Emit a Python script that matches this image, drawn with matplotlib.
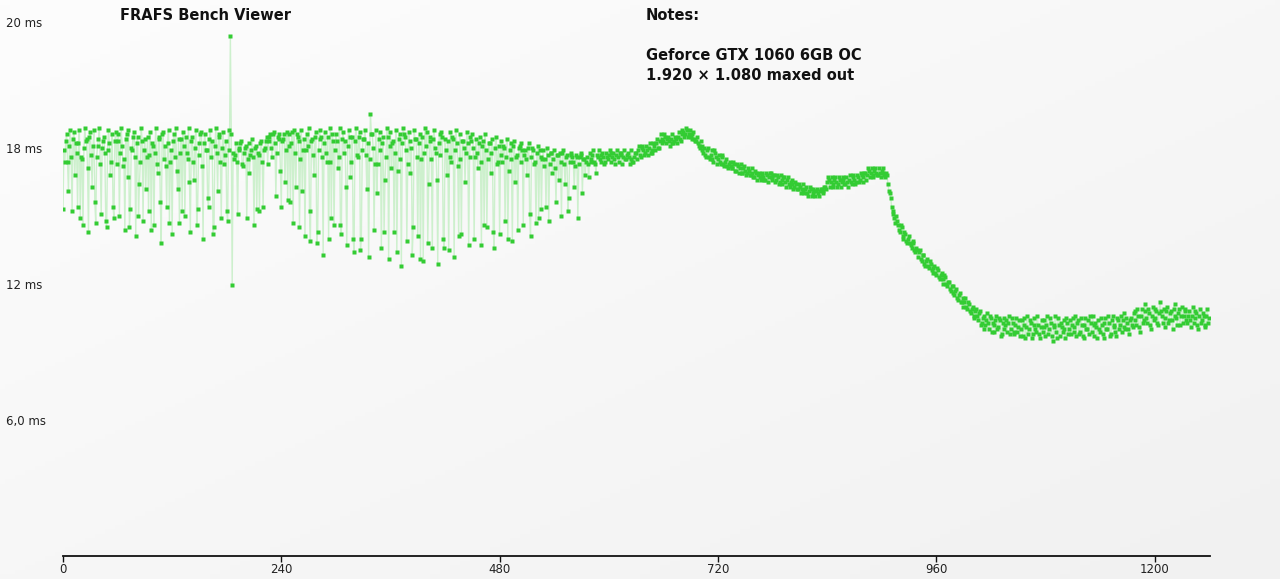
import numpy as np
import matplotlib
matplotlib.use("Agg")
import matplotlib.pyplot as plt

# ---------------- data: frame times in ms ----------------
# even frames (0, 2, 4, ...)
even_osc1 = [15.3, 17.4, 18.6, 16.1, 18.8, 15.2, 18.7, 18.2, 15.4, 18.8, 17.6, 14.6, 18.9, 18.4, 14.3, 18.7,
             16.3, 18.8, 14.7, 18.1, 18.9, 15.1, 18.3, 17.8, 14.5, 18.8, 16.8, 18.6, 14.9, 18.7, 18.3, 15.0,
             18.9, 17.2, 14.4, 18.6, 18.8, 15.3, 17.9, 18.7, 14.1, 18.5, 16.4, 18.9, 14.8, 18.4, 17.6, 15.2,
             18.7, 18.2, 14.6, 18.9, 16.9, 18.5, 13.8, 18.7, 18.1, 15.4, 18.8, 17.4, 14.2, 18.6, 18.9, 16.2,
             14.7, 18.4, 18.7, 15.0, 17.8, 18.9, 14.3, 18.5, 16.6, 18.8, 15.3, 18.2, 18.7, 14.0, 18.6, 17.9,
             15.4, 18.8, 18.3, 14.5, 18.9, 16.1, 18.6, 14.9, 18.7, 17.7, 15.2, 18.8, 22.95, 11.96]
even_osc2 = [17.5, 18.2, 15.1, 17.9, 18.3, 17.2, 18.0, 14.9, 18.2, 17.7, 18.4, 14.6, 18.1, 17.8, 15.2, 18.3,
             15.4, 18.0, 18.5, 18.3, 18.6, 17.6, 18.7, 15.9, 18.5, 18.6, 15.4, 18.4, 16.5, 18.7, 18.6]
even_osc3 = [15.6, 18.7, 18.8, 16.3, 18.5, 14.5, 18.8, 17.9, 14.1, 18.6, 18.9, 13.9, 18.4, 16.8, 18.7, 14.3,
             18.8, 18.5, 13.3, 18.7, 17.4, 14.0, 18.9, 18.6, 14.6]
even_osc4 = [18.6, 17.1, 18.9, 14.2, 18.7, 18.3, 13.7, 18.8, 16.7, 18.5, 13.4, 18.9, 17.6, 18.7, 14.0, 18.4,
             18.8, 16.2, 13.2, 19.5, 18.6, 14.4, 18.8, 17.3, 18.7, 13.6, 18.5, 16.6, 18.9, 13.1, 18.7, 18.2,
             14.3, 18.8, 17.0, 18.6, 12.8, 18.9, 18.5, 13.9, 18.7, 16.9, 13.3, 18.8, 18.4, 14.1, 18.6, 17.5,
             13.0, 18.9, 18.7, 16.4, 18.5, 13.6, 18.8, 17.8, 12.9, 18.6, 18.7, 14.0, 18.4, 16.8, 13.5, 18.7,
             18.5, 13.2, 18.8, 17.2, 18.6, 14.2, 18.3, 16.5, 18.7, 13.7, 18.5]
even_osc5 = [18.6, 14.0, 18.4, 17.1, 18.5, 13.7, 18.3, 18.6, 14.5, 18.2, 16.9, 18.4, 13.6, 18.5, 17.4, 14.2,
             18.3, 18.1, 14.8, 18.4, 17.0, 18.2, 13.9, 18.3, 17.6, 14.4, 18.1, 18.2, 14.6, 17.9, 16.8, 18.2,
             14.1, 18.0, 17.3, 14.7, 18.1, 17.9]
even_osc6 = [15.3, 17.9, 17.5, 18.0, 14.8, 17.8, 16.9, 17.9, 15.6, 17.7, 17.8, 15.0, 17.9, 16.4, 17.7, 15.8,
             17.8, 17.6, 16.3, 17.7, 14.9, 17.6, 17.8, 17.5, 16.8]
even_smooth = [17.6, 16.7, 17.5, 17.7, 17.4, 16.9, 17.6, 17.5, 17.7, 17.6, 17.4, 17.6, 17.7, 17.8, 17.6, 17.5,
               17.7, 17.6, 17.8, 17.7, 17.6, 17.5, 17.7, 17.6, 17.5, 17.4, 17.6, 17.8, 17.9, 17.7, 18.0, 17.9,
               17.8, 17.9, 18.0, 17.8, 17.9, 18.1, 18.2, 18.0, 18.3, 18.4, 18.3, 18.5, 18.4, 18.3, 18.4, 18.2,
               18.3, 18.4, 18.5, 18.4, 18.6, 18.7, 18.6, 18.8, 18.6, 18.5, 18.6, 18.4, 18.3, 18.2, 18.0, 18.1,
               17.8, 17.7, 17.9, 17.6, 17.7, 17.5, 17.9, 17.6, 17.5, 17.4, 17.6, 17.3, 17.4, 17.2, 17.3, 17.2,
               17.1, 17.3, 17.0, 17.2, 17.1, 16.9, 17.1, 17.0, 16.9, 17.0, 16.8, 16.9, 16.7, 16.9, 16.8, 16.7,
               16.8, 16.7, 16.6, 16.8, 16.7, 16.9, 16.7, 16.8, 16.6, 16.7, 16.5, 16.6, 16.7, 16.5, 16.6, 16.4,
               16.5, 16.4, 16.3, 16.4, 16.2, 16.3, 16.2, 16.1, 16.2, 16.0, 16.1, 16.2, 16.0, 16.1, 16.1, 16.0,
               16.1, 16.2, 16.1, 16.3, 16.5, 16.6, 16.5, 16.4, 16.6, 16.5, 16.4, 16.6, 16.5, 16.6, 16.4, 16.5,
               16.6, 16.5, 16.7, 16.6, 16.5, 16.7, 16.6, 16.8, 16.7, 16.9, 16.8, 17.0, 16.9, 16.8, 17.0, 16.9,
               16.8, 16.9, 17.0, 16.9, 16.7, 16.8]
even_drop = [16.1, 15.8, 15.1, 14.9, 15.0, 14.6, 14.3, 14.5, 14.0, 14.2, 13.8, 14.1, 13.7, 13.9, 13.5, 13.6,
             13.2, 13.5, 13.0, 13.3, 12.8, 13.1, 12.7, 12.9, 12.5, 12.8, 12.4, 12.6, 12.2, 12.5, 12.0, 12.3,
             11.9, 12.1, 11.7, 11.9, 11.5, 11.8, 11.3, 11.6, 11.2, 11.0, 11.4, 10.9, 11.1, 10.7, 11.0, 10.6,
             10.9, 10.4, 10.8, 10.3, 10.6, 10.2, 10.7, 10.0, 10.5, 10.3, 9.9, 10.6, 10.1, 10.4, 9.8, 10.5,
             10.2, 9.9, 10.6, 10.0, 10.3]
even_tail = [9.8, 10.5, 10.1, 9.7, 10.4, 10.2, 9.6, 10.6, 10.0, 10.3, 9.8, 10.5, 9.9, 10.2, 9.6, 10.4,
             10.1, 9.7, 10.6, 10.0, 10.3, 9.5, 10.2, 9.9, 10.5, 9.7, 10.1, 10.4, 9.6, 10.3, 10.0, 9.8,
             10.5, 10.1, 9.7, 10.4, 9.9, 10.2, 9.6, 10.5, 10.0, 9.8, 10.3, 10.6, 9.7, 10.1, 10.4, 9.9,
             10.2, 9.6, 10.5, 10.0, 10.3, 9.8, 10.6, 10.1, 9.7, 10.4, 10.2, 9.9, 10.7, 10.0, 10.3, 9.8,
             10.5, 10.1, 10.8, 10.2, 10.6, 9.9, 10.9, 10.4, 11.1, 10.3, 10.7, 10.0, 11.0, 10.5, 10.8, 10.2,
             11.2, 10.6, 10.9, 10.1, 11.0, 10.4, 10.8, 10.0, 11.1, 10.5, 10.7, 10.2, 11.0, 10.6, 10.9, 10.3,
             10.8, 10.1, 11.0, 10.5, 10.7, 10.0, 10.9, 10.4, 10.6, 10.2, 10.9, 10.5]

# odd frames (1, 3, 5, ...)
odd_osc1 = [17.9, 18.3, 17.4, 18.1, 17.6, 18.4, 16.8, 17.8, 18.2, 14.9, 17.5, 18.0, 18.3, 17.1, 18.5, 17.7,
            18.1, 15.6, 17.6, 18.4, 17.3, 18.0, 18.5, 14.8, 17.9, 18.2, 17.4, 15.4, 18.3, 17.3, 18.6, 17.8,
            18.1, 17.5, 18.4, 16.7, 14.5, 18.0, 18.5, 17.6, 18.2, 15.0, 17.4, 18.3, 17.9, 16.2, 18.5, 17.7,
            14.4, 18.1, 17.8, 17.3, 18.4, 15.6, 18.6, 17.5, 17.2, 18.2, 14.7, 17.9, 18.3, 17.6, 17.0, 18.4,
            17.8, 15.2, 18.1, 18.5, 17.5, 16.5, 18.3, 17.4, 18.0, 14.6, 17.7, 18.6, 17.2, 18.2, 17.9, 15.8,
            18.4, 17.6, 14.2, 18.1, 17.8, 18.5, 17.4, 18.0, 17.3, 18.3, 14.8, 17.9, 18.6, 17.8]
odd_osc2 = [17.7, 17.4, 18.0, 18.2, 17.3, 17.8, 18.1, 17.5, 16.9, 17.9, 17.6, 18.0, 15.3, 17.7, 18.2, 17.4,
            17.9, 18.3, 17.3, 18.5, 18.0, 18.6, 18.2, 17.8, 18.4, 17.0, 18.3, 18.6, 17.9, 15.7, 18.1]
odd_osc3 = [18.2, 14.7, 17.8, 18.6, 18.3, 17.5, 16.1, 18.4, 17.9, 18.1, 15.2, 18.3, 17.7, 18.5, 13.8, 17.9,
            18.4, 17.6, 18.2, 17.8, 18.5, 17.4, 14.9, 18.3, 17.9]
odd_osc4 = [18.3, 17.6, 14.6, 18.4, 17.8, 16.3, 18.1, 18.5, 17.4, 14.0, 18.3, 17.7, 18.5, 13.5, 17.9, 18.4,
            17.7, 18.2, 17.5, 18.6, 18.0, 17.3, 16.0, 18.4, 17.9, 18.2, 14.3, 17.6, 18.5, 18.1, 17.1, 18.3,
            17.8, 13.4, 18.4, 17.5, 18.2, 18.6, 17.9, 17.3, 18.3, 18.0, 14.5, 18.4, 17.6, 18.2, 13.1, 18.5,
            17.8, 18.1, 13.8, 18.3, 17.5, 18.4, 18.0, 16.6, 18.2, 17.7, 18.5, 13.6, 17.9, 18.3, 17.6, 17.4,
            18.4, 17.9, 18.2, 14.1, 17.5, 18.3, 18.0, 17.8, 18.2, 17.6, 18.3]
odd_osc5 = [18.0, 17.6, 17.8, 18.2, 17.4, 18.1, 14.6, 17.9, 17.5, 18.2, 17.8, 14.3, 18.0, 17.3, 18.1, 17.7,
            17.4, 18.0, 17.6, 14.0, 17.9, 17.5, 18.1, 16.5, 17.7, 18.0, 17.4, 17.9, 17.7, 17.5, 18.0, 15.1,
            17.6, 17.9, 17.4, 17.8, 14.9, 17.6]
odd_osc6 = [17.5, 17.2, 15.4, 17.7, 17.3, 17.8, 17.5, 17.1, 17.7, 16.6, 17.4, 17.8, 17.3, 17.6, 15.2, 17.4,
            17.7, 17.4, 17.2, 17.6, 17.3, 17.7, 16.0, 17.5, 17.4]
odd_smooth = [17.3, 17.8, 17.4, 17.9, 17.3, 17.7, 17.9, 17.4, 17.8, 17.3, 17.8, 17.5, 17.9, 17.4, 17.8, 17.3,
              17.9, 17.4, 17.8, 17.3, 17.9, 17.5, 17.8, 17.3, 17.9, 17.4, 17.8, 17.5, 18.1, 17.6, 18.1, 17.7,
              18.1, 17.7, 18.2, 17.8, 18.2, 17.9, 18.4, 18.0, 18.6, 18.2, 18.6, 18.2, 18.5, 18.1, 18.6, 18.2,
              18.5, 18.2, 18.7, 18.3, 18.8, 18.5, 18.9, 18.5, 18.8, 18.4, 18.7, 18.3, 18.5, 18.1, 18.3, 17.9,
              18.0, 17.6, 18.0, 17.5, 17.9, 17.4, 17.8, 17.3, 17.7, 17.3, 17.7, 17.2, 17.5, 17.1, 17.4, 17.1,
              17.4, 17.0, 17.3, 16.9, 17.3, 16.9, 17.2, 16.8, 17.1, 16.8, 17.1, 16.7, 17.0, 16.6, 16.9, 16.6,
              16.9, 16.6, 16.9, 16.5, 16.9, 16.6, 16.8, 16.5, 16.8, 16.4, 16.8, 16.4, 16.7, 16.3, 16.7, 16.3,
              16.6, 16.2, 16.5, 16.2, 16.4, 16.0, 16.4, 16.0, 16.3, 15.9, 16.3, 15.9, 16.2, 15.9, 16.2, 15.9,
              16.2, 16.0, 16.3, 16.2, 16.7, 16.3, 16.7, 16.3, 16.7, 16.3, 16.7, 16.3, 16.7, 16.4, 16.7, 16.3,
              16.8, 16.4, 16.8, 16.4, 16.8, 16.5, 16.9, 16.5, 16.9, 16.6, 17.1, 16.7, 17.1, 16.7, 17.1, 16.8,
              17.1, 16.7, 17.1, 16.8, 16.9, 16.4]
odd_drop = [16.0, 15.4, 15.2, 14.7, 14.8, 14.4, 14.6, 14.1, 14.3, 13.9, 14.0, 13.8, 13.6, 13.8, 13.4, 13.5,
            13.4, 13.1, 13.3, 12.9, 13.0, 12.8, 13.0, 12.6, 12.7, 12.5, 12.7, 12.3, 12.4, 12.2, 12.4, 12.0,
            12.1, 11.8, 11.9, 11.6, 11.7, 11.4, 11.5, 11.2, 11.4, 11.2, 11.0, 11.2, 10.8, 10.9, 10.5, 10.8,
            10.6, 10.7, 10.2, 10.5, 10.0, 10.4, 10.3, 10.6, 9.9, 10.2, 10.4, 10.0, 10.5, 9.7, 10.3, 10.0,
            10.4, 10.3, 9.8, 10.5, 9.9]
odd_tail = [10.2, 9.9, 10.4, 10.0, 9.7, 10.5, 10.1, 9.8, 10.4, 9.6, 10.2, 10.0, 10.6, 9.8, 10.1, 9.9,
            10.4, 10.2, 9.8, 10.5, 9.7, 10.1, 10.6, 9.6, 10.2, 10.3, 9.9, 10.0, 10.5, 9.8, 10.4, 10.2,
            9.9, 10.6, 10.3, 9.8, 10.5, 9.7, 10.2, 10.0, 10.4, 10.6, 9.9, 10.2, 10.3, 9.6, 10.0, 10.5,
            9.8, 10.3, 10.0, 10.6, 9.7, 10.4, 10.2, 9.9, 10.5, 10.0, 10.6, 10.4, 10.1, 10.5, 10.0, 10.4,
            10.2, 10.7, 10.4, 10.9, 10.1, 10.6, 10.3, 10.8, 10.5, 10.9, 10.2, 10.6, 10.4, 10.9, 10.3, 10.7,
            10.8, 10.3, 10.5, 10.8, 10.3, 10.7, 10.4, 10.9, 10.6, 10.2, 10.9, 10.6, 10.3, 10.8, 10.4, 10.6,
            10.4, 10.6, 10.3, 10.8, 10.2, 10.6, 10.3, 10.7, 10.1, 10.6, 10.3]

x_ticks = [0, 240, 480, 720, 960, 1200]
y_tick_vals = [6, 12, 18, 23.55]
y_tick_labels = ["6,0 ms", "12 ms", "18 ms", "20 ms"]
title_text = "FRAFS Bench Viewer"
notes_lines = ["Notes:", "Geforce GTX 1060 6GB OC", "1.920 \u00d7 1.080 maxed out"]

even_ms = np.array(even_osc1 + even_osc2 + even_osc3 + even_osc4 + even_osc5 + even_osc6
                   + even_smooth + even_drop + even_tail)
odd_ms = np.array(odd_osc1 + odd_osc2 + odd_osc3 + odd_osc4 + odd_osc5 + odd_osc6
                  + odd_smooth + odd_drop + odd_tail)
frame_ms = np.empty(len(even_ms) + len(odd_ms))
frame_ms[0::2] = even_ms
frame_ms[1::2] = odd_ms
frames = np.arange(len(frame_ms))

# ---------------- figure ----------------
W, H = 1280, 579
fig = plt.figure(figsize=(W / 100, H / 100), dpi=100)

bg = fig.add_axes([0, 0, 1, 1], zorder=-10)
gx, gy = np.meshgrid(np.linspace(0, 1, 256), np.linspace(0, 1, 128))
grad = 0.5 * gx + 0.5 * gy
bg.imshow(grad, cmap=matplotlib.colors.LinearSegmentedColormap.from_list(
    "bgc", ["#fdfdfd", "#f1f1f1"]), aspect="auto", extent=[0, 1, 0, 1], origin="upper")
bg.set_axis_off()

left_px, right_px, top_px, bot_px = 63, 1210, 22, 556
ax = fig.add_axes([left_px / W, (H - bot_px) / H, (right_px - left_px) / W, (bot_px - top_px) / H])
ax.patch.set_alpha(0)

ax.plot(frames, frame_ms, color="#cdf0cd", lw=1.0, zorder=1)
ax.plot(frames, frame_ms, ls="none", marker="s", ms=2.2, mec="none", mfc="#33cc33", zorder=2)

ax.set_xlim(0, 1261)
ax.set_ylim(0, 23.56)

for s in ["left", "right", "top"]:
    ax.spines[s].set_visible(False)
ax.spines["bottom"].set_color("#111111")
ax.spines["bottom"].set_linewidth(1.3)

ax.set_xticks(x_ticks)
ax.set_xticklabels([str(v) for v in x_ticks], fontsize=8.5, color="#222222")
ax.tick_params(axis="x", direction="out", length=4, width=1, color="#111111", pad=1)

ax.set_yticks(y_tick_vals)
ax.set_yticklabels(y_tick_labels, fontsize=8.5, color="#222222")
ax.tick_params(axis="y", length=0, pad=(left_px - 6) * 0.72)
for lab in ax.get_yticklabels():
    lab.set_horizontalalignment("left")

text_kw = dict(fontsize=10.5, fontweight="bold", ha="left", va="center", color="#111111")
fig.text(120 / W, 1 - 15 / H, title_text, **text_kw)
fig.text(646 / W, 1 - 15 / H, notes_lines[0], **text_kw)
fig.text(646 / W, 1 - 56 / H, notes_lines[1], **text_kw)
fig.text(646 / W, 1 - 75 / H, notes_lines[2], **text_kw)

fig.savefig("out.png", dpi=100)
